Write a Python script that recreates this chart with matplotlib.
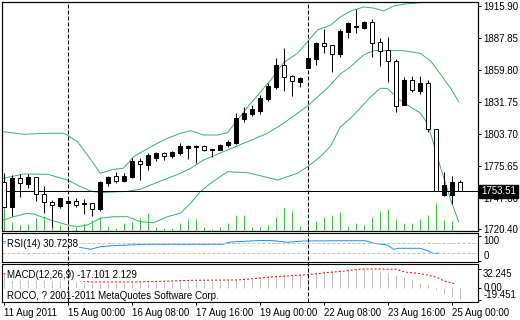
import matplotlib
matplotlib.use('Agg')
import matplotlib.pyplot as plt
import matplotlib.transforms as mtransforms
from matplotlib.lines import Line2D
import numpy as np
import pandas as pd

plt.rcParams['font.family'] = ['Liberation Sans', 'DejaVu Sans']
plt.rcParams['font.size'] = 7

# gold H4 bars, 11 Aug 2011 16:00 .. 25 Aug 2011 04:00
opens = [1761.80, 1740.15, 1765.04, 1760.31, 1765.92, 1751.01, 1744.26, 1741.02, 1743.65, 1744.88,
         1742.25, 1743.39, 1738.13, 1761.18, 1766.79, 1762.94, 1766.44, 1780.20, 1776.96, 1783.10,
         1787.39, 1784.41, 1787.48, 1791.86, 1792.48, 1793.35, 1789.85, 1790.11, 1794.23, 1795.72,
         1817.28, 1821.23, 1824.30, 1834.55, 1844.81, 1864.35, 1854.71, 1849.71, 1861.99, 1869.61,
         1883.64, 1881.62, 1874.00, 1893.54, 1897.40, 1896.79, 1902.05, 1884.25, 1877.50, 1867.60,
         1829.55, 1850.94, 1841.83, 1848.58, 1808.25, 1750.40, 1750.66, 1761.80]
highs = [1769.68, 1767.93, 1768.81, 1768.81, 1765.92, 1758.29, 1746.02, 1748.03, 1746.02, 1747.77,
         1746.90, 1743.80, 1762.67, 1767.32, 1770.56, 1769.42, 1782.57, 1782.83, 1787.04, 1788.36,
         1788.53, 1788.97, 1795.98, 1793.97, 1793.97, 1794.23, 1790.99, 1795.54, 1798.61, 1822.02,
         1827.28, 1829.03, 1838.06, 1848.31, 1870.75, 1878.99, 1855.85, 1853.57, 1882.50, 1884.78,
         1896.17, 1882.15, 1895.65, 1901.78, 1913.44, 1902.66, 1904.94, 1888.02, 1889.16, 1869.61,
         1854.10, 1854.71, 1854.71, 1851.21, 1808.25, 1770.56, 1767.32, 1763.55]
lows = [1739.01, 1731.99, 1748.38, 1756.27, 1745.41, 1734.89, 1722.61, 1739.01, 1727.61, 1740.15,
        1734.01, 1732.26, 1736.38, 1758.55, 1761.18, 1762.06, 1765.56, 1763.55, 1772.31, 1780.64,
        1781.08, 1783.27, 1785.46, 1781.96, 1778.45, 1788.71, 1783.45, 1789.85, 1792.21, 1795.11,
        1814.65, 1819.65, 1821.40, 1833.06, 1843.05, 1841.83, 1837.18, 1845.33, 1861.50, 1864.35,
        1875.13, 1858.48, 1871.63, 1888.28, 1892.67, 1895.65, 1871.63, 1863.74, 1849.71, 1823.42,
        1829.55, 1840.95, 1839.20, 1805.36, 1753.64, 1749.52, 1742.25, 1753.51]
closes = [1739.88, 1765.04, 1760.66, 1765.92, 1751.01, 1744.00, 1741.37, 1747.51, 1745.14, 1741.90,
          1743.39, 1738.39, 1761.80, 1766.18, 1762.94, 1767.06, 1780.20, 1777.14, 1785.03, 1787.48,
          1784.76, 1788.09, 1793.35, 1793.35, 1793.62, 1789.58, 1790.99, 1794.23, 1796.86, 1817.90,
          1822.54, 1825.78, 1835.43, 1845.95, 1864.35, 1854.10, 1850.07, 1852.96, 1870.49, 1883.90,
          1881.27, 1874.26, 1894.42, 1901.17, 1898.80, 1902.05, 1883.90, 1876.89, 1867.60, 1828.68,
          1851.21, 1842.18, 1848.58, 1807.99, 1753.64, 1759.17, 1761.80, 1753.51]
volumes = [880, 360, 220, 280, 500, 600, 200, 240, 200, 160,
           300, 440, 540, 200, 120, 300, 360, 500, 700, 160,
           120, 120, 320, 460, 480, 140, 80, 140, 320, 640,
           640, 140, 140, 240, 560, 920, 800, 200, 440, 400,
           560, 640, 760, 200, 320, 240, 560, 800, 880, 480,
           320, 320, 480, 640, 1120, 440, 400, 40]

# Bollinger bands (bar position, price)
bb_up_x = [0, 2.5, 5.5, 7.5, 8, 9.25, 10.5, 12.1, 13.75, 15, 16.25, 18.4, 20.5, 22.1, 23.4, 25, 26.75, 28,
           29.25, 30.9, 33.4, 35, 36.75, 38, 39.25, 40.9, 42.1, 43.4, 45, 46.25, 47.5, 48.75, 50.25, 52.1, 53]
bb_up = [1805.89, 1803.61, 1804.49, 1804.49, 1802.99, 1797.12, 1785.46, 1769.42, 1772.93, 1773.81,
         1783.97, 1792.74, 1800.10, 1804.49, 1806.76, 1802.99, 1802.99, 1805.01, 1816.14, 1830.78,
         1851.21, 1866.37, 1874.61, 1884.78, 1895.03, 1899.42, 1906.43, 1911.69, 1915.19, 1914.32,
         1911.69, 1916.07, 1917.82, 1918.96, 1922.50]
bb_mid_x = [0, 2.5, 5.5, 8, 9.6, 10.9, 12.1, 13.75, 15.5, 17.1, 18.4, 20.5, 22.1, 23.4, 25, 27.5,
            30, 33, 35, 38, 40.5, 42.1, 43.4, 45, 46.25, 48, 50, 52.1, 53.4, 54.6, 55.9, 56.9]
bb_mid = [1765.04, 1768.81, 1768.55, 1763.55, 1757.68, 1753.91, 1752.42, 1753.03, 1753.64, 1755.40,
          1759.17, 1765.04, 1769.42, 1773.81, 1781.08, 1788.36, 1795.72, 1804.49, 1813.25, 1828.41,
          1844.19, 1856.46, 1862.86, 1873.12, 1876.89, 1877.06, 1876.89, 1874.61, 1867.86, 1856.46,
          1843.93, 1832.18]
bb_lo_x = [0, 1.25, 3, 3.75, 5.9, 8, 9.25, 10.5, 12.1, 13.75, 15.5, 17.1, 18.75, 20.5, 22.1, 23.4,
           24.6, 25.9, 28, 30.5, 32.1, 34.25, 36.75, 38, 39.6, 40.9, 42.1, 43.4, 44.6, 45.9, 47.1, 48,
           49.25, 50.5, 52.1, 53, 53.75, 54.6, 55.9, 56.9]
bb_lo = [1728.49, 1731.38, 1734.36, 1733.75, 1728.49, 1724.10, 1722.61, 1724.10, 1729.98, 1731.38,
         1731.38, 1727.00, 1726.12, 1731.38, 1734.36, 1743.12, 1753.29, 1760.66, 1770.82, 1769.95,
         1767.32, 1763.55, 1769.42, 1775.21, 1783.97, 1793.35, 1810.01, 1817.90, 1826.66, 1836.57,
         1843.93, 1843.75, 1835.16, 1829.29, 1822.28, 1813.25, 1795.72, 1775.21, 1746.02, 1727.00]

# RSI(14)
rsi_x = [0, 9.8, 10.9, 12.1, 13.75, 17.5, 23, 27.4, 28.4, 32.1, 33.75, 35.5, 37.5, 42.1, 45.25,
         46.25, 48, 48.75, 49.4, 52.1, 53, 53.75, 54.4]
rsi = [76.4, 52.4, 46.0, 56.4, 60.4, 66.0, 66.0, 66.0, 75.2, 81.2, 80.4, 74.0, 79.2, 80.4, 80.4,
       70.0, 63.2, 46.0, 50.0, 50.0, 40.4, 29.0, 30.7238]

# MACD(12,26,9): histogram per bar + signal line
macd = [23.5, 21.1, 18.6, 17.0, 15.4, 13.8, 12.6, 11.7, 11.0, 10.5,
        9.4, 9.4, 9.4, 9.4, 9.4, 9.4, 10.0, 10.0, 10.0, 10.0,
        11.0, 11.0, 11.7, 11.7, 12.2, 12.2, 12.6, 12.6, 13.3, 14.3,
        14.9, 15.9, 18.1, 20.3, 22.4, 24.0, 24.0, 25.1, 26.7, 26.7,
        28.4, 30.0, 31.1, 32.2, 32.245, 32.2, 30.0, 28.8, 25.6, 21.9,
        18.1, 13.8, 8.4, 5.7, -2.0, -8.9, -13.3, -17.101]
sig_x = [0, 9.9, 10.9, 16.25, 21.25, 23.4, 29.25, 31.25, 33.4, 35.5, 38, 39.25, 41.25, 42.75,
         44.25, 46.25, 49.25, 49.6, 50.5, 51.75, 53, 54.25, 55, 55.9, 56.5]
sig = [24.0, 12.2, 10.5, 10.5, 12.2, 13.3, 13.8, 15.9, 18.6, 20.3, 22.4, 24.0, 26.7, 28.4,
       31.1, 31.6, 31.1, 28.8, 26.2, 24.6, 21.9, 17.5, 12.6, 9.4, 7.3]
sig_last = 2.129

price_ticks = [1915.90, 1887.85, 1859.80, 1831.75, 1803.70, 1775.65, 1747.60, 1720.40]

times = pd.date_range('2011-08-11 16:00', periods=90, freq='4h')
times = times[times.dayofweek < 5][:len(opens)]

o, h, l, c = map(np.array, (opens, highs, lows, closes))
x = np.arange(len(o))
up = c >= o

W, H = 520, 320
def rect(x0, y0, x1, y1):
    return [x0 / W, 1 - y1 / H, (x1 - x0) / W, (y1 - y0) / H]

fig = plt.figure(figsize=(W / 100, H / 100), dpi=100)
ax = fig.add_axes(rect(2, 2, 478, 230.7))
ax_rsi = fig.add_axes(rect(2, 233.3, 478, 262.3), sharex=ax)
ax_macd = fig.add_axes(rect(2, 264.3, 478, 301.7), sharex=ax)

lw = 0.72  # one pixel

# volumes sit at the bottom of the price window
ax_v = ax.twinx()
ax_v.vlines(x, 0, volumes, color='#32cd32', lw=lw)
ax_v.set_ylim(0, max(volumes) * 228.7 / 28)
ax_v.set_yticks([])
ax.set_zorder(ax_v.get_zorder() + 1)
ax.patch.set_visible(False)

ax.plot(bb_up_x, bb_up, color='#3cb371', lw=lw, zorder=2)
ax.plot(bb_mid_x, bb_mid, color='#3cb371', lw=lw, zorder=2)
ax.plot(bb_lo_x, bb_lo, color='#3cb371', lw=lw, zorder=2)

ax.vlines(x, l, h, color='black', lw=lw, zorder=3)
ax.bar(x[up], (c - o)[up], bottom=o[up], width=0.5, color='black', edgecolor='black', lw=lw, zorder=4)
ax.bar(x[~up], (o - c)[~up], bottom=c[~up], width=0.5, color='white', edgecolor='black', lw=lw, zorder=4)
ax.axhline(closes[-1], color='black', lw=lw, zorder=3)

# bar centres land on pixel centres
ax.set_xlim(-0.1875, 59.3125)
ax.set_ylim(1719.11, 1919.58)
ax.yaxis.tick_right()
ax.set_yticks(price_ticks)
ax.set_yticklabels(['%.2f' % p for p in price_ticks])
ax.tick_params(axis='y', length=2.2, width=lw, pad=1.5)
ax.tick_params(axis='x', bottom=False, labelbottom=False)

bt = mtransforms.blended_transform_factory(ax.transAxes, ax.transData)
ax.text(1.0063, closes[-1], '%.2f' % closes[-1], transform=bt, ha='left', va='center', color='white',
        bbox=dict(facecolor='black', edgecolor='black', pad=1.2), clip_on=False, zorder=10)

# RSI window
ax_rsi.plot(rsi_x, rsi, color='#1e90ff', lw=lw)
for lev in (70, 30):
    ax_rsi.axhline(lev, color='#c0c0c0', lw=lw, ls=(0, (3, 2)))
ax_rsi.set_ylim(-6, 110)
ax_rsi.yaxis.tick_right()
ax_rsi.set_yticks([100, 0])
ax_rsi.set_yticklabels(['100', '0'])
for lbl, va in zip(ax_rsi.get_yticklabels(), ['top', 'bottom']):
    lbl.set_va(va)
ax_rsi.tick_params(axis='y', length=2.2, width=lw, pad=1.5)
ax_rsi.tick_params(axis='x', bottom=False, labelbottom=False)
ax_rsi.text(0.0105, 0.63, 'RSI(14) %.4f' % rsi[-1], transform=ax_rsi.transAxes, va='center',
            bbox=dict(facecolor='white', edgecolor='none', pad=0.5))

# MACD window
ax_macd.vlines(x, 0, macd, color='#c0c0c0', lw=lw)
ax_macd.plot(sig_x, sig, color='red', lw=lw, ls=(0, (2, 2)))
ax_macd.set_ylim(-21.4, 39.2)
ax_macd.yaxis.tick_right()
ax_macd.set_yticks([32.245, 0, -19.451])
ax_macd.set_yticklabels(['32.245', '0.00', '-19.451'])
for lbl, va in zip(ax_macd.get_yticklabels(), ['top', 'center', 'bottom']):
    lbl.set_va(va)
ax_macd.tick_params(axis='y', length=2.2, width=lw, pad=1.5)
ax_macd.text(0.0105, 0.706, 'MACD(12,26,9) %.3f %.3f' % (macd[-1], sig_last), transform=ax_macd.transAxes,
             va='center', bbox=dict(facecolor='white', edgecolor='none', pad=0.5))
ax_macd.text(0.0105, 0.16, 'ROCO, ? 2001-2011 MetaQuotes Software Corp.', transform=ax_macd.transAxes,
             va='center', bbox=dict(facecolor='white', edgecolor='none', pad=0.5))

tick_pos = list(range(0, len(times), 8))
tick_lbl = [times[0].strftime('%d %b %Y')] + [times[i].strftime('%d %b %H:%M') for i in tick_pos[1:]]
ax_macd.set_xticks(tick_pos)
ax_macd.set_xticklabels(tick_lbl, ha='left')
ax_macd.tick_params(axis='x', length=2.2, width=lw, pad=2)

for a in (ax, ax_v, ax_rsi, ax_macd):
    for s in a.spines.values():
        s.set_linewidth(0.8)
        s.set_color('black')

# weekly separators through all windows
sep = [i for i, t in enumerate(times) if t.dayofweek == 0 and t.hour == 0]
tr = mtransforms.blended_transform_factory(ax.transData, fig.transFigure)
for i in sep:
    fig.add_artist(Line2D([i, i], [1 - 301.7 / H, 1 - 2 / H], transform=tr, color='black',
                          lw=lw, ls=(0, (4, 2)), zorder=5))

fig.savefig('out.png', dpi=100)
